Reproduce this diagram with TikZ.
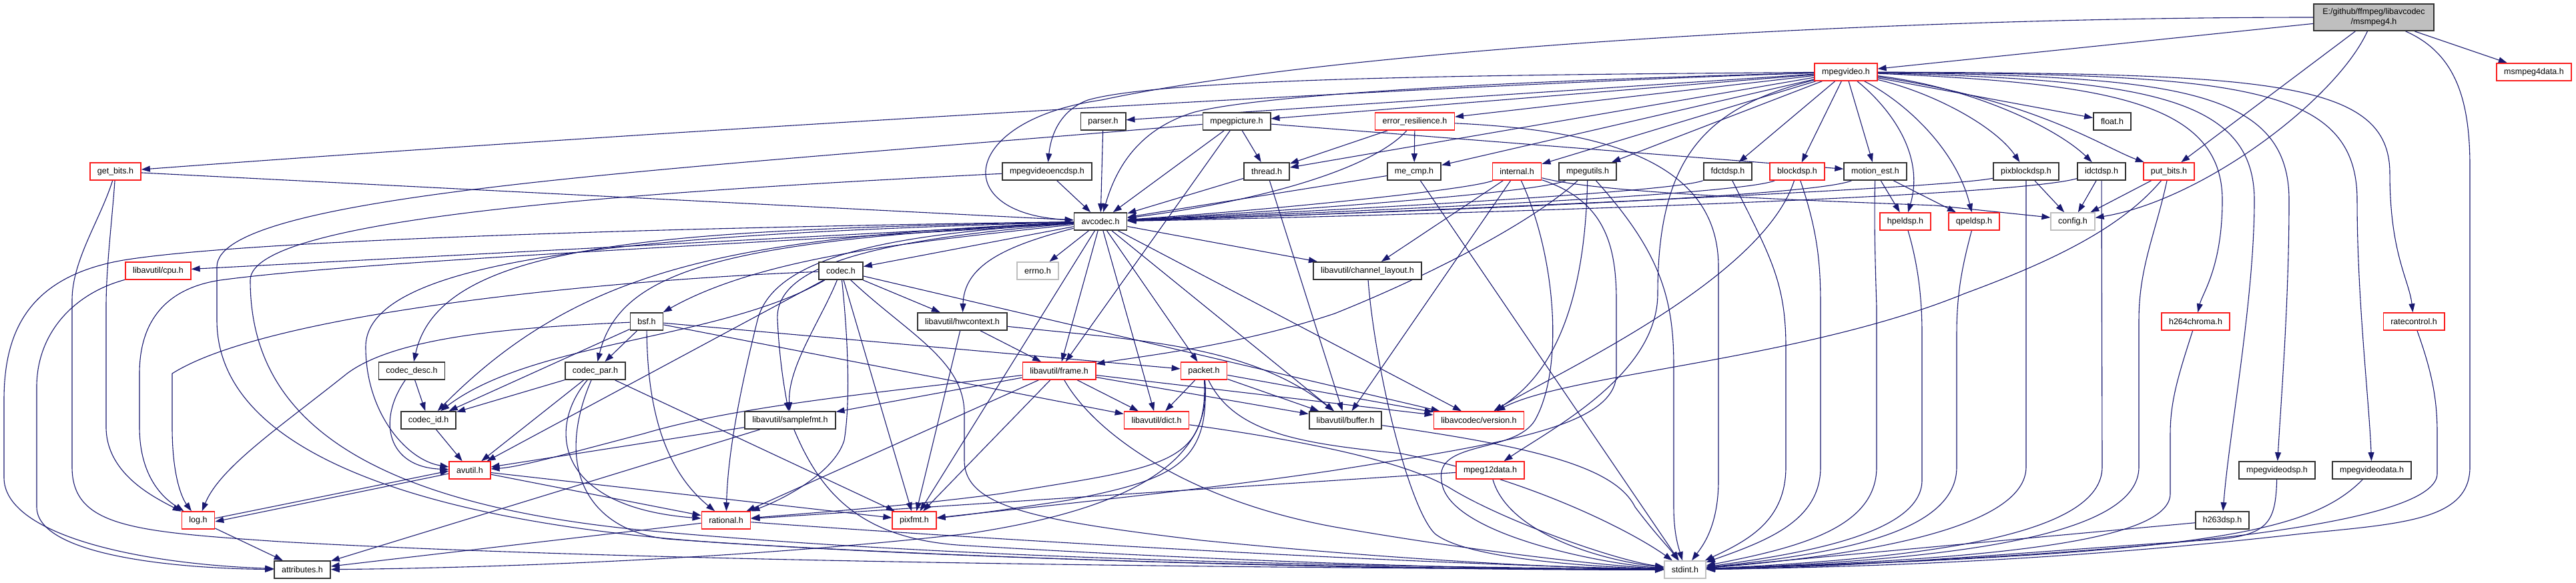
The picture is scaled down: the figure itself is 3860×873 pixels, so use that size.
\documentclass[tikz,border=0pt]{standalone}
\usepackage{fontspec}
\setmainfont{Liberation Sans}
\usetikzlibrary{arrows.meta}
\definecolor{edgec}{RGB}{25,25,112}
\definecolor{redb}{RGB}{250,30,30}
\definecolor{darkb}{RGB}{50,50,50}
\definecolor{grayb}{RGB}{191,191,191}
\definecolor{mainfill}{RGB}{191,191,191}
\newcommand\nodefont{\fontsize{12.5pt}{15pt}\selectfont}
\pgfdeclarelayer{bg}
\pgfdeclarelayer{edges}
\pgfsetlayers{bg,edges,main}
\begin{document}
\begin{tikzpicture}[x=1pt,y=-1pt,
  nbx/.style={draw=darkb, line width=1.8pt, fill=white, minimum height=26pt, inner xsep=11pt, inner ysep=0pt, font=\nodefont, text=black},
  nrd/.style={nbx, draw=redb, line width=1.5pt},
  ngr/.style={nbx, draw=grayb, line width=1.5pt},
  nmn/.style={nbx, fill=mainfill, minimum width=180pt, minimum height=40pt, align=center},
  edg/.style={draw=edgec, line width=1.1pt, -{Triangle[length=13pt,width=9pt]}}]
\useasboundingbox (0,0) rectangle (3860,873);
\begin{pgfonlayer}{bg}
\fill[white] (0,0) rectangle (3860,873);
\end{pgfonlayer}
% nodes
\node[nmn] (M) at (3557,26) {E:/github/ffmpeg/libavcodec\\/msmpeg4.h};
\node[nrd] (msdata) at (3797,108) {msmpeg4data.h};
\node[nrd] (mpegvideo) at (2766,108) {mpegvideo.h};
\node[nbx] (parser) at (1653,182) {parser.h};
\node[nbx] (mpegpicture) at (1853,182) {mpegpicture.h};
\node[nrd] (errres) at (2120,182) {error\_resilience.h};
\node[nbx] (flt) at (3165,182) {float.h};
\node[nrd] (getbits) at (173,257) {get\_bits.h};
\node[nbx] (encdsp) at (1569,257) {mpegvideoencdsp.h};
\node[nbx] (thread) at (1898,257) {thread.h};
\node[nbx] (mecmp) at (2119,257) {me\_cmp.h};
\node[nrd] (internal) at (2273,257) {internal.h};
\node[nbx] (mpegutils) at (2379,257) {mpegutils.h};
\node[nbx] (fdctdsp) at (2589,257) {fdctdsp.h};
\node[nrd] (blockdsp) at (2693,257) {blockdsp.h};
\node[nbx] (motionest) at (2810,257) {motion\_est.h};
\node[nbx] (pixblockdsp) at (3036,257) {pixblockdsp.h};
\node[nbx] (idctdsp) at (3149,257) {idctdsp.h};
\node[nrd] (putbits) at (3250,257) {put\_bits.h};
\node[nbx] (avcodec) at (1649,332) {avcodec.h};
\node[nrd] (hpeldsp) at (2855,332) {hpeldsp.h};
\node[nrd] (qpeldsp) at (2958,332) {qpeldsp.h};
\node[ngr] (cfg) at (3106,332) {config.h};
\node[nrd] (cpu) at (237,406) {libavutil/cpu.h};
\node[nbx] (codec) at (1260,406) {codec.h};
\node[ngr] (errnoh) at (1555,406) {errno.h};
\node[nbx] (chlayout) at (2049,406) {libavutil/channel\_layout.h};
\node[nrd] (h264chroma) at (3290,482) {h264chroma.h};
\node[nrd] (ratecontrol) at (3617,482) {ratecontrol.h};
\node[nbx] (bsf) at (969,482) {bsf.h};
\node[nbx] (hwcontext) at (1442,482) {libavutil/hwcontext.h};
\node[nbx] (codecdesc) at (617,556) {codec\_desc.h};
\node[nbx] (codecpar) at (892,556) {codec\_par.h};
\node[nrd] (frm) at (1587,556) {libavutil/frame.h};
\node[nrd] (pkt) at (1804,556) {packet.h};
\node[nbx] (codecid) at (642,630) {codec\_id.h};
\node[nbx] (samplefmt) at (1184,630) {libavutil/samplefmt.h};
\node[nrd] (dict) at (1733,630) {libavutil/dict.h};
\node[nbx] (buf) at (2016,630) {libavutil/buffer.h};
\node[nrd] (ver) at (2216,630) {libavcodec/version.h};
\node[nrd] (avutil) at (704,705) {avutil.h};
\node[nrd] (mpeg12data) at (2233,705) {mpeg12data.h};
\node[nbx] (vdsp) at (3412,705) {mpegvideodsp.h};
\node[nbx] (vdata) at (3554,705) {mpegvideodata.h};
\node[nrd] (logh) at (297,780) {log.h};
\node[nrd] (rational) at (1088,780) {rational.h};
\node[nrd] (pixfmt) at (1370,780) {pixfmt.h};
\node[nbx] (h263dsp) at (3330,780) {h263dsp.h};
\node[nbx] (attributes) at (453,854) {attributes.h};
\node[ngr] (stdint) at (2525,854) {stdint.h};

\begin{pgfonlayer}{edges}
% main
\draw[edg] (M) .. controls (2800,26) and (2000,75) .. (1650,150) .. controls (1440,180) and (1420,320) .. (avcodec);
\draw[edg] (M) -- (mpegvideo);
\draw[edg] (M) -- (putbits);
\draw[edg] (M) .. controls (3500,150) and (3300,300) .. (cfg);
\draw[edg] (M) .. controls (3680,80) and (3701,150) .. (3701,250) -- (3701,700) .. controls (3701,780) and (3600,785) .. (3450,800) .. controls (3100,840) and (2800,850) .. (stdint);
\draw[edg] (M) -- (msdata);
% mpegvideo
\draw[edg] (mpegvideo) .. controls (2200,125) and (1000,195) .. (getbits);
\draw[edg] (mpegvideo) -- (parser);
\draw[edg] (mpegvideo) .. controls (2300,112) and (1750,115) .. (1630,150) .. controls (1590,165) and (1575,200) .. (encdsp);
\draw[edg] (mpegvideo) .. controls (2300,120) and (1900,140) .. (1790,168) .. controls (1700,195) and (1670,260) .. (avcodec);
\draw[edg] (mpegvideo) -- (mpegpicture);
\draw[edg] (mpegvideo) -- (thread);
\draw[edg] (mpegvideo) -- (errres);
\draw[edg] (mpegvideo) -- (mecmp);
\draw[edg] (mpegvideo) -- (internal);
\draw[edg] (mpegvideo) -- (mpegutils);
\draw[edg] (mpegvideo) -- (fdctdsp);
\draw[edg] (mpegvideo) -- (blockdsp);
\draw[edg] (mpegvideo) -- (motionest);
\draw[edg] (mpegvideo) .. controls (2830,160) and (2885,230) .. (hpeldsp);
\draw[edg] (mpegvideo) .. controls (2850,150) and (2930,220) .. (qpeldsp);
\draw[edg] (mpegvideo) -- (flt);
\draw[edg] (mpegvideo) .. controls (2900,140) and (2990,190) .. (pixblockdsp);
\draw[edg] (mpegvideo) .. controls (2950,130) and (3080,190) .. (idctdsp);
\draw[edg] (mpegvideo) .. controls (3050,150) and (3150,220) .. (putbits);
\draw[edg] (mpegvideo) .. controls (3150,125) and (3330,150) .. (3330,300) .. controls (3330,400) and (3300,440) .. (h264chroma);
\draw[edg] (mpegvideo) .. controls (3200,120) and (3378,140) .. (3378,300) .. controls (3378,450) and (3340,650) .. (h263dsp);
\draw[edg] (mpegvideo) .. controls (3250,115) and (3430,130) .. (3430,300) .. controls (3430,450) and (3418,600) .. (vdsp);
\draw[edg] (mpegvideo) .. controls (3350,112) and (3532,125) .. (3532,300) .. controls (3532,450) and (3550,600) .. (vdata);
\draw[edg] (mpegvideo) .. controls (3400,110) and (3581,120) .. (3581,260) .. controls (3581,380) and (3610,420) .. (ratecontrol);
\draw[edg] (mpegvideo) .. controls (2560,160) and (2484,230) .. (2484,440) .. controls (2484,560) and (2330,640) .. (mpeg12data);
% into avcodec
\draw[edg] (getbits) -- (avcodec);
\draw[edg] (parser) -- (avcodec);
\draw[edg] (encdsp) -- (avcodec);
\draw[edg] (mpegpicture) -- (avcodec);
\draw[edg] (thread) -- (avcodec);
\draw[edg] (errres) .. controls (2060,250) and (1900,300) .. (avcodec);
\draw[edg] (mecmp) -- (avcodec);
\draw[edg] (internal) .. controls (2200,285) and (1900,315) .. (avcodec);
\draw[edg] (mpegutils) .. controls (2300,290) and (1900,318) .. (avcodec);
\draw[edg] (fdctdsp) .. controls (2500,290) and (1900,320) .. (avcodec);
\draw[edg] (blockdsp) .. controls (2600,295) and (1900,322) .. (avcodec);
\draw[edg] (motionest) .. controls (2700,300) and (1900,324) .. (avcodec);
\draw[edg] (pixblockdsp) .. controls (2900,285) and (1900,326) .. (avcodec);
\draw[edg] (idctdsp) .. controls (3000,300) and (1900,328) .. (avcodec);
% error_resilience
\draw[edg] (errres) -- (thread);
\draw[edg] (errres) -- (mecmp);
\draw[edg] (errres) .. controls (2400,195) and (2575,240) .. (2575,400) -- (2575,720) .. controls (2575,790) and (2550,820) .. (stdint);
% mpegpicture
\draw[edg] (mpegpicture) -- (thread);
\draw[edg] (mpegpicture) -- (motionest);
\draw[edg] (mpegpicture) -- (frm);
\draw[edg] (mpegpicture) .. controls (1000,255) and (325,290) .. (325,400) -- (325,480) .. controls (325,700) and (700,790) .. (1100,815) .. controls (1700,850) and (2300,855) .. (stdint);
% encdsp
\draw[edg] (encdsp) .. controls (900,290) and (375,330) .. (375,420) .. controls (375,600) and (500,750) .. (965,795) .. controls (1500,845) and (2200,850) .. (stdint);
% get_bits
\draw[edg] (getbits) .. controls (150,330) and (108,390) .. (108,450) -- (108,700) .. controls (108,790) and (200,797) .. (420,812) .. controls (1000,845) and (2000,852) .. (stdint);
\draw[edg] (getbits) .. controls (168,330) and (159,400) .. (159,460) -- (159,640) .. controls (159,710) and (230,745) .. (logh);
% thread, me_cmp
\draw[edg] (thread) -- (buf);
\draw[edg] (mecmp) -- (stdint);
% internal
\draw[edg] (internal) -- (chlayout);
\draw[edg] (internal) -- (buf);
\draw[edg] (internal) .. controls (2400,300) and (2422,360) .. (2422,450) -- (2422,560) .. controls (2422,640) and (2250,665) .. (2000,705) .. controls (1800,735) and (1550,760) .. (pixfmt);
\draw[edg] (internal) .. controls (2330,380) and (2345,550) .. (2300,630) .. controls (2270,680) and (2150,660) .. (2160,720) .. controls (2165,800) and (2400,845) .. (stdint);
\draw[edg] (internal) .. controls (2400,290) and (2700,300) .. (2900,308) -- (cfg.170);
% mpegutils
\draw[edg] (mpegutils) .. controls (2300,330) and (2150,410) .. (2000,470) .. controls (1850,520) and (1700,535) .. (frm);
\draw[edg] (mpegutils) .. controls (2375,450) and (2330,560) .. (ver);
\draw[edg] (mpegutils) .. controls (2490,380) and (2508,450) .. (2508,550) -- (2508,760) .. controls (2508,800) and (2515,820) .. (stdint);
% fdctdsp, blockdsp
\draw[edg] (fdctdsp) .. controls (2650,380) and (2676,420) .. (2676,520) -- (2676,700) .. controls (2676,780) and (2620,810) .. (stdint);
\draw[edg] (blockdsp) .. controls (2640,420) and (2330,560) .. (ver);
\draw[edg] (blockdsp) .. controls (2725,350) and (2728,400) .. (2728,460) -- (2728,700) .. controls (2728,780) and (2650,810) .. (stdint);
% motion_est
\draw[edg] (motionest) -- (hpeldsp);
\draw[edg] (motionest) -- (qpeldsp);
\draw[edg] (motionest) .. controls (2808,330) and (2810,400) .. (2812,460) -- (2812,700) .. controls (2812,790) and (2700,820) .. (stdint);
% hpel, qpel
\draw[edg] (hpeldsp) .. controls (2875,400) and (2880,450) .. (2880,500) -- (2880,720) .. controls (2880,800) and (2700,830) .. (stdint);
\draw[edg] (qpeldsp) .. controls (2940,400) and (2932,440) .. (2932,500) -- (2932,700) .. controls (2932,800) and (2750,830) .. (stdint);
% pixblockdsp, idctdsp, put_bits
\draw[edg] (pixblockdsp) -- (cfg);
\draw[edg] (pixblockdsp) -- (3036,700) .. controls (3036,790) and (2800,832) .. (stdint);
\draw[edg] (idctdsp) -- (cfg);
\draw[edg] (idctdsp) -- (3150,700) .. controls (3150,800) and (2900,836) .. (stdint);
\draw[edg] (putbits) -- (cfg);
\draw[edg] (putbits) .. controls (3180,340) and (3080,390) .. (2944,440) .. controls (2700,540) and (2350,560) .. (ver);
\draw[edg] (putbits) .. controls (3230,350) and (3205,400) .. (3205,480) -- (3205,700) .. controls (3205,800) and (2950,838) .. (stdint);
% right side leaves
\draw[edg] (h264chroma) .. controls (3265,560) and (3252,600) .. (3252,650) -- (3252,740) .. controls (3252,810) and (3000,838) .. (stdint);
\draw[edg] (ratecontrol) .. controls (3645,560) and (3652,600) .. (3652,650) -- (3652,710) .. controls (3652,780) and (3300,830) .. (stdint);
\draw[edg] (h263dsp) -- (stdint);
\draw[edg] (vdsp) .. controls (3410,780) and (3400,800) .. (3330,808) .. controls (3000,830) and (2800,850) .. (stdint);
\draw[edg] (vdata) .. controls (3460,800) and (3300,830) .. (stdint);
\draw[edg] (mpeg12data) -- (rational);
\draw[edg] (mpeg12data) .. controls (2260,800) and (2400,840) .. (stdint);
\draw[edg] (chlayout) .. controls (2060,550) and (2110,760) .. (2150,800) .. controls (2200,840) and (2400,850) .. (stdint);
% avcodec outputs
\draw[edg] (avcodec) -- (cpu);
\draw[edg] (avcodec) -- (codec);
\draw[edg] (avcodec) -- (errnoh);
\draw[edg] (avcodec) -- (chlayout);
\draw[edg] (avcodec) .. controls (1400,360) and (1150,380) .. (bsf);
\draw[edg] (avcodec) .. controls (1500,370) and (1445,400) .. (hwcontext);
\draw[edg] (avcodec) .. controls (1000,345) and (660,360) .. (codecdesc);
\draw[edg] (avcodec) .. controls (1100,360) and (930,400) .. (codecpar);
\draw[edg] (avcodec) .. controls (1100,355) and (870,400) .. (codecid);
\draw[edg] (avcodec) .. controls (1000,350) and (548,380) .. (548,520) .. controls (548,620) and (610,690) .. (avutil);
\draw[edg] (avcodec) .. controls (1200,362) and (550,390) .. (330,420) .. controls (250,432) and (209,480) .. (209,560) -- (209,640) .. controls (209,720) and (250,750) .. (logh);
\draw[edg] (avcodec) .. controls (1200,338) and (400,355) .. (185,390) .. controls (40,415) and (6,500) .. (6,600) -- (6,716) .. controls (6,800) and (200,845) .. (attributes);
\draw[edg] (avcodec) -- (frm);
\draw[edg] (avcodec) -- (pkt);
\draw[edg] (avcodec) .. controls (1300,360) and (1160,400) .. (1165,480) .. controls (1168,540) and (1175,580) .. (samplefmt);
\draw[edg] (avcodec) -- (dict);
\draw[edg] (avcodec) -- (buf);
\draw[edg] (avcodec) -- (ver);
\draw[edg] (avcodec) .. controls (1350,350) and (1160,380) .. (1135,480) .. controls (1100,620) and (1090,700) .. (rational);
\draw[edg] (avcodec) -- (pixfmt);
% codec
\draw[edg] (codec) -- (hwcontext);
\draw[edg] (codec) -- (avutil);
\draw[edg] (codec) .. controls (900,420) and (400,470) .. (258,560) -- (258,640) .. controls (258,720) and (275,750) .. (logh);
\draw[edg] (codec) -- (pixfmt);
\draw[edg] (codec) .. controls (1270,500) and (1275,600) .. (1265,660) .. controls (1250,710) and (1170,750) .. (rational);
\draw[edg] (codec) .. controls (1230,480) and (1180,550) .. (samplefmt);
\draw[edg] (codec) .. controls (1080,510) and (800,510) .. (codecid);
\draw[edg] (codec) -- (ver);
\draw[edg] (codec) .. controls (1360,500) and (1445,540) .. (1445,620) -- (1445,690) .. controls (1445,760) and (1550,780) .. (1800,810) .. controls (2100,840) and (2350,852) .. (stdint);
% hwcontext
\draw[edg] (hwcontext) -- (frm);
\draw[edg] (hwcontext) .. controls (1700,510) and (1870,515) .. (buf);
\draw[edg] (hwcontext) -- (pixfmt);
% bsf
\draw[edg] (bsf) -- (dict);
\draw[edg] (bsf) -- (pkt);
\draw[edg] (bsf) .. controls (800,490) and (600,500) .. (520,560) .. controls (420,640) and (330,700) .. (logh);
\draw[edg] (bsf) -- (codecid);
\draw[edg] (bsf) -- (codecpar);
\draw[edg] (bsf) .. controls (970,600) and (990,700) .. (rational);
% codec_desc, codec_par, codec_id
\draw[edg] (codecdesc) -- (codecid);
\draw[edg] (codecdesc) .. controls (565,630) and (580,700) .. (avutil);
\draw[edg] (codecpar) -- (codecid);
\draw[edg] (codecpar) -- (avutil);
\draw[edg] (codecpar) .. controls (820,640) and (830,760) .. (rational);
\draw[edg] (codecpar) -- (pixfmt);
\draw[edg] (codecpar) .. controls (830,700) and (880,795) .. (1000,808) .. controls (1500,845) and (2200,853) .. (stdint);
\draw[edg] (codecid) -- (avutil);
% avutil, log
\draw[edg] ([yshift=3pt]logh.east) -- ([yshift=-1pt]avutil.west);
\draw[edg] ([yshift=-5pt]avutil.west) -- ([yshift=-2pt]logh.east);
\draw[edg] (avutil) -- (rational);
\draw[edg] (avutil) -- (pixfmt);
\draw[edg] (logh) -- (attributes);
% frame
\draw[edg] (frm) .. controls (1300,590) and (1100,610) .. (965,650) .. controls (850,680) and (780,700) .. (avutil);
\draw[edg] (frm) -- (samplefmt);
\draw[edg] (frm) -- (rational);
\draw[edg] (frm) -- (pixfmt);
\draw[edg] (frm) -- (buf);
\draw[edg] (frm) -- (dict);
\draw[edg] (frm) -- (ver);
\draw[edg] (frm) .. controls (1640,650) and (1780,750) .. (2000,790) .. controls (2200,825) and (2400,848) .. (stdint);
% packet
\draw[edg] (pkt) -- (buf);
\draw[edg] (pkt) -- (dict);
\draw[edg] (pkt) -- (ver);
\draw[edg] (pkt) .. controls (1810,700) and (1740,700) .. (1500,740) .. controls (1350,760) and (1200,770) .. (rational);
\draw[edg] (pkt) .. controls (1815,700) and (1750,720) .. (1600,750) .. controls (1500,765) and (1450,772) .. (pixfmt);
\draw[edg] (pkt) .. controls (1820,710) and (1650,770) .. (1450,800) .. controls (1100,840) and (700,852) .. (attributes);
\draw[edg] (pkt) .. controls (1850,650) and (1950,665) .. (2100,680) .. controls (2300,720) and (2450,800) .. (stdint);
% samplefmt, dict, buffer, rational, cpu
\draw[edg] (samplefmt) -- (avutil);
\draw[edg] (samplefmt) -- (attributes);
\draw[edg] (samplefmt) .. controls (1230,740) and (1290,810) .. (1450,818) .. controls (1900,845) and (2300,855) .. (stdint);
\draw[edg] (dict) .. controls (1950,660) and (2100,690) .. (2170,730) .. controls (2250,780) and (2420,840) .. (stdint);
\draw[edg] (buf) .. controls (2300,670) and (2420,700) .. (2450,760) .. controls (2480,800) and (2500,820) .. (stdint);
\draw[edg] (rational) -- (attributes);
\draw[edg] (rational) .. controls (1500,810) and (2100,845) .. (stdint);
\draw[edg] (cpu) .. controls (110,440) and (55,500) .. (55,580) -- (55,760) .. controls (55,830) and (250,852) .. (attributes);
\end{pgfonlayer}
\end{tikzpicture}
\end{document}
